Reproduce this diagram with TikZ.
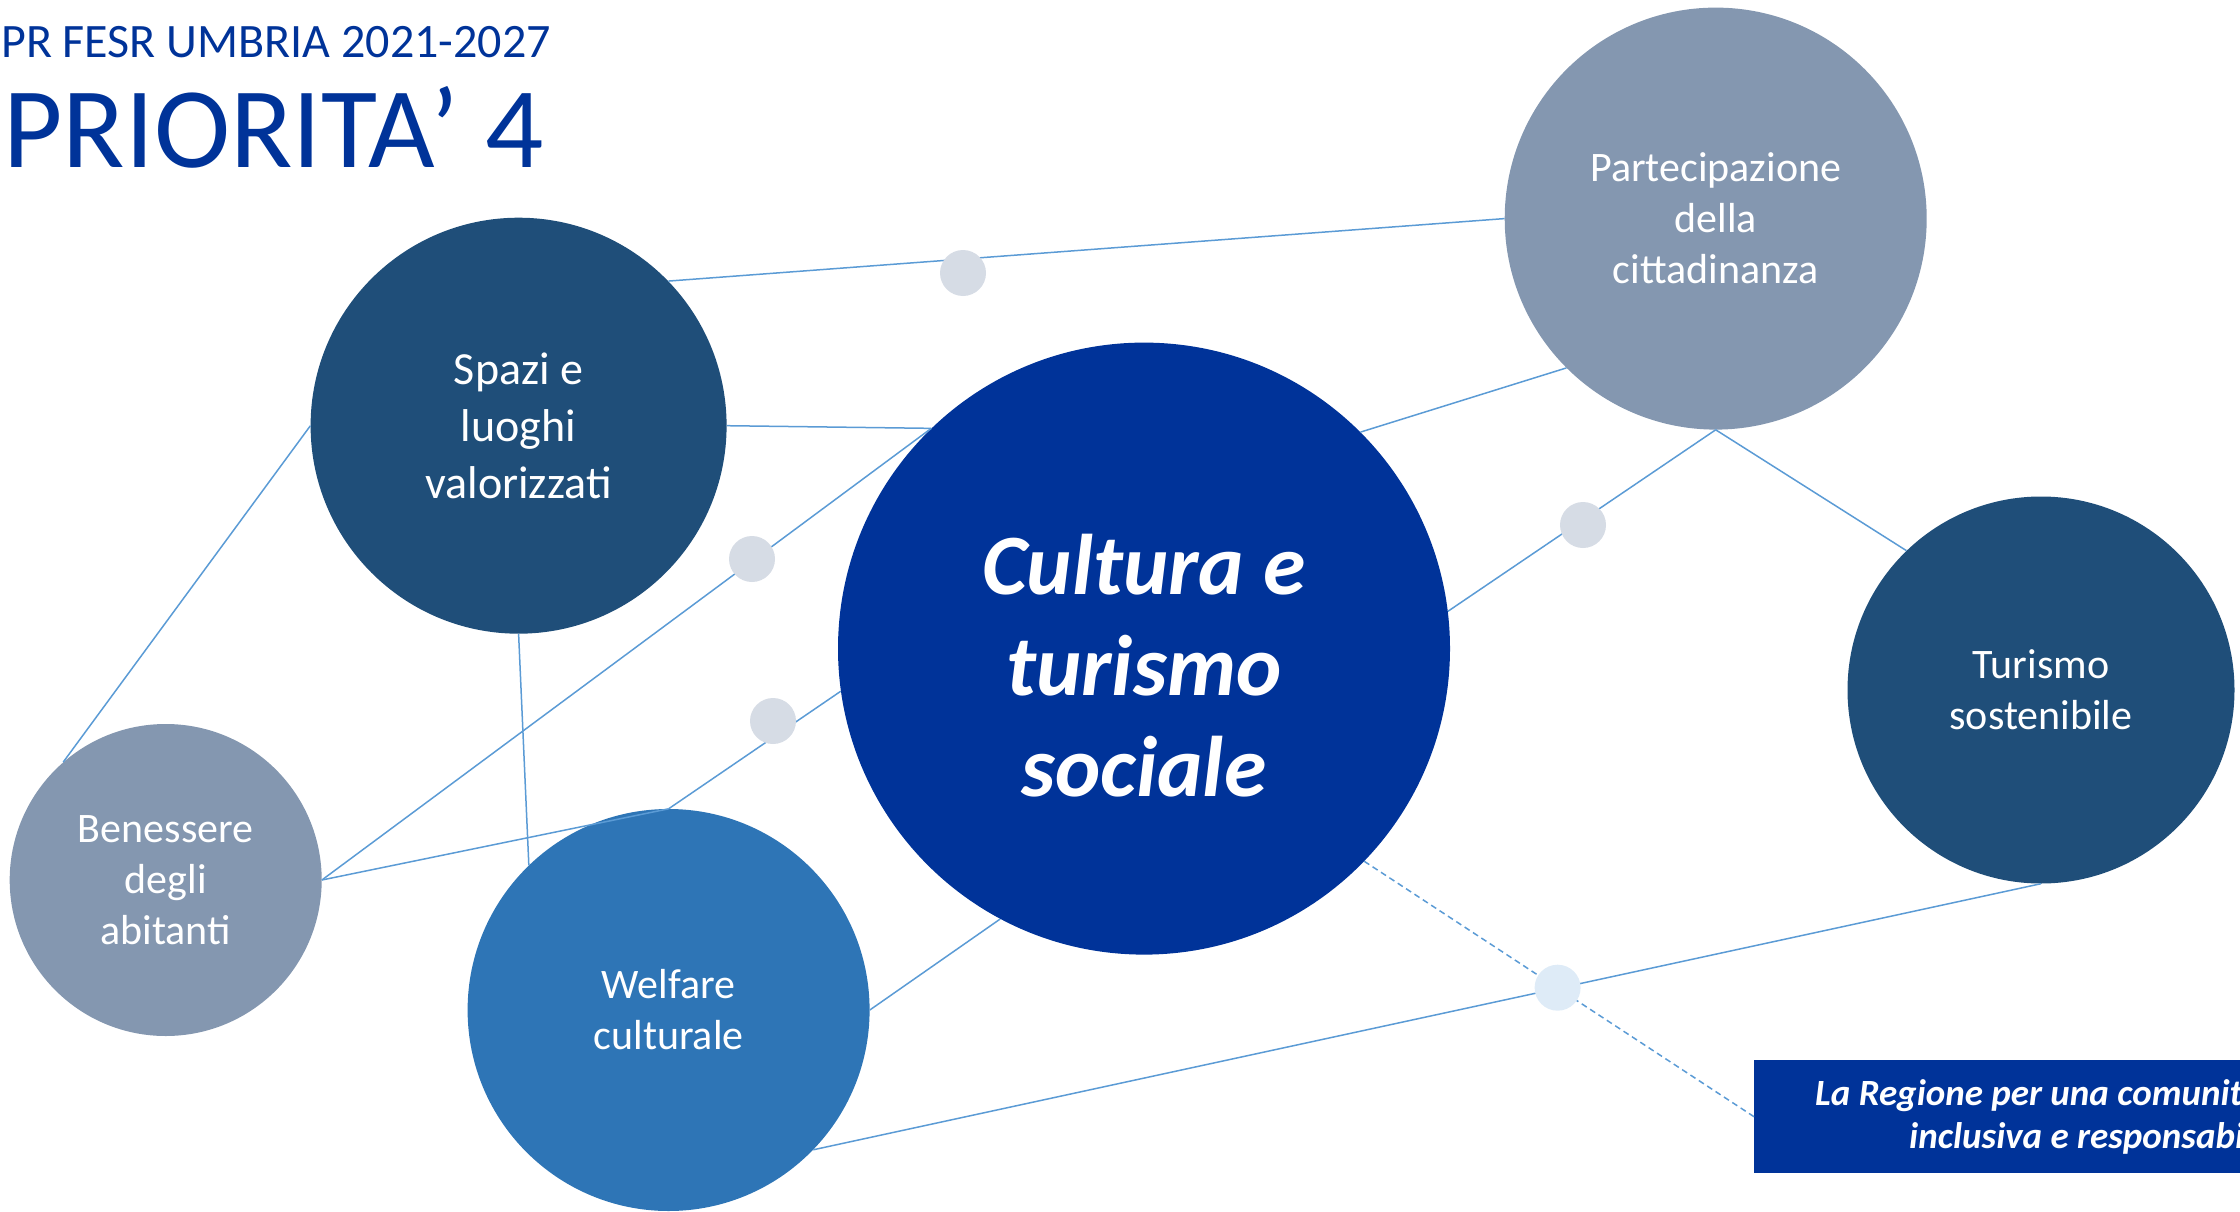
\documentclass[tikz,border=0pt]{standalone}
\usepackage{fontspec}
\setmainfont{Carlito}
\definecolor{titleblue}{HTML}{003399}
\definecolor{royal}{HTML}{003399}
\definecolor{slate}{HTML}{1F4E79}
\definecolor{greyblue}{HTML}{8497B0}
\definecolor{midblue}{HTML}{2E75B6}
\definecolor{lineblue}{HTML}{5B9BD5}
\definecolor{dotgray}{HTML}{D6DCE5}
\definecolor{dotlight}{HTML}{DEEBF7}
\begin{document}
\begin{tikzpicture}[x=1pt,y=-1pt,
  bub/.style={circle,inner sep=0pt,text=white,align=center},
  bubtxt/.style={font=\fontsize{42}{51}\selectfont},
  link/.style={draw=lineblue,line width=1.5pt},
  dashlink/.style={link,dash pattern=on 6pt off 4pt},
  dot/.style={circle,fill=dotgray,inner sep=0pt,minimum size=46pt},
  boxtxt/.style={anchor=base west,inner sep=0pt,text=white,font=\fontsize{37}{44}\selectfont\bfseries\itshape},
]
\useasboundingbox (0,0) rectangle (2240,1212);
\clip (0,0) rectangle (2240,1212);

% titles
\node[anchor=base west,inner sep=0pt,text=titleblue,font=\fontsize{48}{57}\selectfont] (t1) at (1,58) {PR FESR UMBRIA 2021-2027};
\node[anchor=base west,inner sep=0pt,text=titleblue,font=\fontsize{115}{138}\selectfont] (t2) at (3,167) {PRIORITA’ 4};

% circles
\node[bub,fill=slate,minimum size=416pt,font=\fontsize{46}{57}\selectfont] (spazi) at (518.6,425.7) {Spazi e\\luoghi\\valorizzati};
\node[bub,fill=royal,minimum size=612pt] (cult) at (1144,648.6) {};
\node[text=white,align=center,inner sep=0pt,font=\fontsize{86}{101}\selectfont\bfseries\itshape] (culttxt) at ([yshift=-17pt]cult.center) {Cultura e\\turismo\\sociale};
\node[bub,bubtxt,fill=greyblue,minimum size=422pt] (part) at (1715.7,218.6) {Partecipazione\\della\\cittadinanza};
\node[bub,bubtxt,fill=slate,minimum size=387pt] (tur) at (2041,690) {Turismo\\sostenibile};
\node[bub,bubtxt,fill=greyblue,minimum size=312pt] (ben) at (165.7,880) {Benessere\\degli\\abitanti};
\node[bub,bubtxt,fill=midblue,minimum size=402pt] (welf) at (668.6,1010) {Welfare\\culturale};

% box
\node[anchor=north west,fill=royal,minimum width=700pt,minimum height=113pt,inner sep=0pt] (box) at (1754,1060) {};
\node[boxtxt] (bt1) at (1815,1105) {La Regione per una comunità};
\node[boxtxt] (bt2) at (1909,1148) {inclusiva e responsabile};

% connectors
\draw[link] (spazi.44.3) -- (part.west);
\draw[link] (spazi.east) -- (cult.134.7);
\draw[link] (ben.east) -- (cult.134.7);
\draw[link] (ben.east) -- (welf.north);
\draw[link] (welf.north) -- (cult.188);
\draw[link] (spazi.south) -- (welf.134.3);
\draw[link] (ben.131.3) -- (spazi.west);
\draw[link] (welf.east) -- (cult.242);
\draw[link] (welf.-44.5) -- (tur.south);
\draw[link] (cult.7) -- (part.south);
\draw[link] (part.south) -- (tur.134.8);
\draw[link] (cult.45) -- (part.225);
\draw[dashlink] (cult.-44.7) -- (box.west);

% dots
\node[dot] (d1) at (963,273) {};
\node[dot] (d2) at (752,559) {};
\node[dot] (d3) at (773,721) {};
\node[dot] (d4) at (1583,525) {};
\node[dot,fill=dotlight] (d5) at (1557.6,987.7) {};
\end{tikzpicture}
\end{document}
